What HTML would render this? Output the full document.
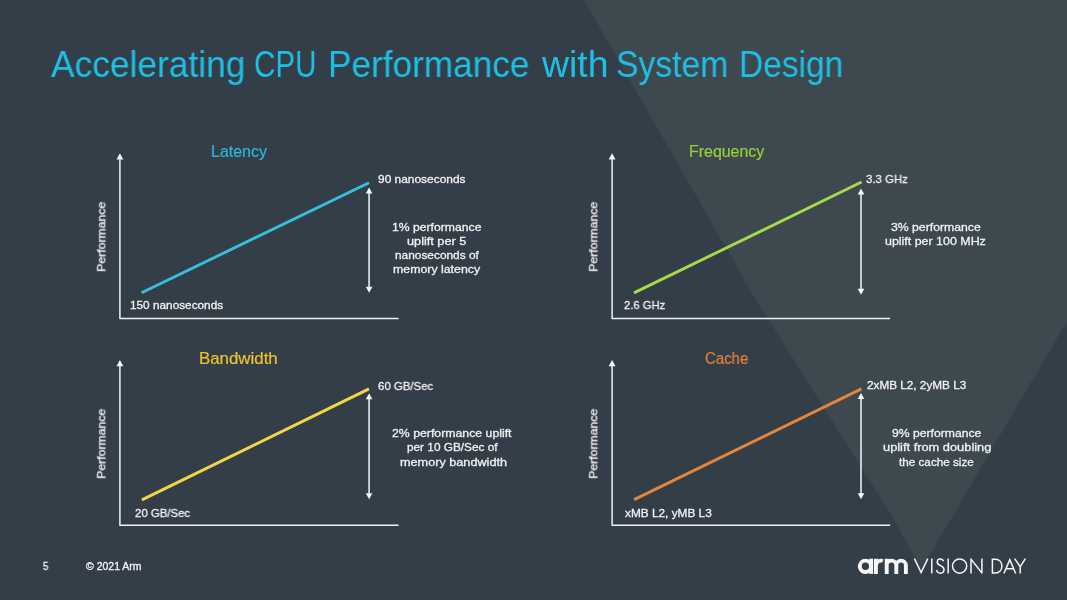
<!DOCTYPE html>
<html><head><meta charset="utf-8"><title>Accelerating CPU Performance with System Design</title>
<style>
html,body{margin:0;padding:0;background:#343e48;}
body{width:1067px;height:600px;position:relative;overflow:hidden;font-family:"Liberation Sans",sans-serif;}
.t{position:absolute;white-space:nowrap;line-height:1;transform-origin:0 0;will-change:transform;}
.b{-webkit-text-stroke:0.3px currentColor;}
.c{-webkit-text-stroke:0.2px currentColor;}
svg{position:absolute;left:0;top:0;}
</style></head><body>
<svg width="1067" height="600" viewBox="0 0 1067 600">
<rect width="1067" height="600" fill="#343e48"/>
<defs><filter id="sb" x="-10%" y="-10%" width="120%" height="120%"><feGaussianBlur stdDeviation="1"/></filter></defs>
<polygon points="526.7,-100 1167,-100 1167,151.2 921.1,569.7 894.5,520 756,300" fill="#3d4850" filter="url(#sb)"/>
<path d="M119.9 159.2 V318.5 H398.6" fill="none" stroke="#eef1f4" stroke-width="1.5" stroke-linejoin="round"/><path d="M119.9 153.2 l3.4 6.4 h-6.8z" fill="#f6f6f6"/><line x1="141.6" y1="292.8" x2="369.0" y2="182.7" stroke="#38bfdc" stroke-width="2.9"/><line x1="369.1" y1="192.5" x2="369.1" y2="287.7" stroke="#e9edf0" stroke-width="1.6"/><path d="M369.1 187.5 l3.3 6 h-6.6z" fill="#f6f6f6"/><path d="M369.1 292.7 l3.3 -6 h-6.6z" fill="#f6f6f6"/><path d="M612.1 159.2 V318.5 H890.1" fill="none" stroke="#eef1f4" stroke-width="1.5" stroke-linejoin="round"/><path d="M612.1 153.2 l3.4 6.4 h-6.8z" fill="#f6f6f6"/><line x1="634.0" y1="292.9" x2="861.6" y2="182.0" stroke="#a5db4a" stroke-width="2.9"/><line x1="861.0" y1="193.6" x2="861.0" y2="289.8" stroke="#e9edf0" stroke-width="1.6"/><path d="M861.0 188.6 l3.3 6 h-6.6z" fill="#f6f6f6"/><path d="M861.0 294.8 l3.3 -6 h-6.6z" fill="#f6f6f6"/><path d="M119.9 365.9 V525.2 H398.6" fill="none" stroke="#eef1f4" stroke-width="1.5" stroke-linejoin="round"/><path d="M119.9 359.9 l3.4 6.4 h-6.8z" fill="#f6f6f6"/><line x1="141.9" y1="499.9" x2="369.0" y2="388.9" stroke="#f3d545" stroke-width="2.9"/><line x1="369.1" y1="398.3" x2="369.1" y2="494.2" stroke="#e9edf0" stroke-width="1.6"/><path d="M369.1 393.3 l3.3 6 h-6.6z" fill="#f6f6f6"/><path d="M369.1 499.2 l3.3 -6 h-6.6z" fill="#f6f6f6"/><path d="M612.1 365.9 V525.2 H890.1" fill="none" stroke="#eef1f4" stroke-width="1.5" stroke-linejoin="round"/><path d="M612.1 359.9 l3.4 6.4 h-6.8z" fill="#f6f6f6"/><line x1="634.1" y1="499.6" x2="861.4" y2="388.9" stroke="#e5853c" stroke-width="2.9"/><line x1="861.0" y1="398.1" x2="861.0" y2="494.2" stroke="#e9edf0" stroke-width="1.6"/><path d="M861.0 393.1 l3.3 6 h-6.6z" fill="#f6f6f6"/><path d="M861.0 499.2 l3.3 -6 h-6.6z" fill="#f6f6f6"/>

<g fill="none" stroke="#f6f6f6" stroke-width="1.5" stroke-linecap="butt" stroke-linejoin="miter">
<path d="M914.4 558.6 L921.1 572.6 L927.8 558.6"/>
<path d="M931.8 558.6 V573.5"/>
<path d="M943.6 561.3 C943 559.6 941.8 558.9 940.3 558.9 C938.4 558.9 937.2 560.3 937.2 562 C937.2 566.3 944 565 944 569.6 C944 571.8 942.4 573.2 940.3 573.2 C938.2 573.2 936.9 571.8 936.6 570"/>
<path d="M948.2 558.6 V573.5"/>
<circle cx="959.6" cy="566.05" r="7.1"/>
<path d="M971 573.5 V558.6 M971 559.1 L981.9 573 M981.9 573.5 V558.6"/>
<path d="M992.4 559.3 V572.9 H995.2 C999.5 572.9 1001.9 570 1001.9 566.1 C1001.9 562.2 999.5 559.3 995.2 559.3 Z"/>
<path d="M1003.9 573.5 L1009.8 559.6 L1015.7 573.5 M1006 568.8 H1013.6"/>
<path d="M1014.6 558.6 L1020.2 566.6 L1025.4 558.6 M1020.2 566.4 V573.5"/>
</g>
<g fill="none" stroke="#f7f7f7" stroke-width="3.9">
<circle cx="865.4" cy="566.3" r="5.65"/>
<path d="M871.15 558.7 V573.9"/>
<path d="M875.9 573.9 V558.7 M875.9 567 C875.9 562.6 878.3 560.65 881 560.65 C881.7 560.65 882.3 560.8 882.8 561"/>
<path d="M886.7 573.9 V558.7 M886.7 565.45 a4.8 4.8 0 0 1 9.6 0 V573.9 M896.3 565.45 a4.8 4.8 0 0 1 9.6 0 V573.9"/>
</g>

</svg>
<span class="t" style="left:50.50px;top:47.00px;font-size:36px;color:#1dc0e4;transform:scaleX(0.9817)">Accelerating</span>
<span class="t" style="left:254.18px;top:47.00px;font-size:36px;color:#1dc0e4;transform:scaleX(0.8218)">CPU</span>
<span class="t" style="left:328.04px;top:47.00px;font-size:36px;color:#1dc0e4;transform:scaleX(0.9775)">Performance</span>
<span class="t" style="left:541.54px;top:47.00px;font-size:36px;color:#1dc0e4;transform:scaleX(1.0397)">with</span>
<span class="t" style="left:616.06px;top:47.00px;font-size:36px;color:#1dc0e4;transform:scaleX(0.9356)">System</span>
<span class="t" style="left:738.64px;top:47.00px;font-size:36px;color:#1dc0e4;transform:scaleX(0.9302)">Design</span>
<span class="t c" style="left:210.59px;top:144.00px;font-size:15.8px;color:#2cb9d8;transform:scaleX(1.0105)">Latency</span>
<span class="t b" style="left:377.50px;top:174.00px;font-size:11.5px;color:#f2f2f2;transform:scaleX(1.0372)">90 nanoseconds</span>
<span class="t b" style="left:392.40px;top:222.00px;font-size:11.5px;color:#f2f2f2;transform:scaleX(1.0598)">1% performance</span>
<span class="t b" style="left:407.40px;top:236.00px;font-size:11.5px;color:#f2f2f2;transform:scaleX(1.1050)">uplift per 5</span>
<span class="t b" style="left:394.60px;top:250.00px;font-size:11.5px;color:#f2f2f2;transform:scaleX(1.0328)">nanoseconds of</span>
<span class="t b" style="left:393.40px;top:264.00px;font-size:11.5px;color:#f2f2f2;transform:scaleX(1.0735)">memory latency</span>
<span class="t b" style="left:129.60px;top:300.00px;font-size:11.5px;color:#f2f2f2;transform:scaleX(1.0258)">150 nanoseconds</span>
<span class="t c" style="left:689.49px;top:144.00px;font-size:15.8px;color:#98d034;transform:scaleX(1.0077)">Frequency</span>
<span class="t b" style="left:866.00px;top:174.00px;font-size:11.5px;color:#f2f2f2;transform:scaleX(0.9875)">3.3 GHz</span>
<span class="t b" style="left:890.90px;top:222.00px;font-size:11.5px;color:#f2f2f2;transform:scaleX(1.0634)">3% performance</span>
<span class="t b" style="left:885.30px;top:236.00px;font-size:11.5px;color:#f2f2f2;transform:scaleX(1.0805)">uplift per 100 MHz</span>
<span class="t b" style="left:624.10px;top:300.00px;font-size:11.5px;color:#f2f2f2;transform:scaleX(0.9757)">2.6 GHz</span>
<span class="t c" style="left:199.43px;top:351.00px;font-size:15.8px;color:#ecc22e;transform:scaleX(1.0669)">Bandwidth</span>
<span class="t b" style="left:377.50px;top:381.00px;font-size:11.5px;color:#f2f2f2;transform:scaleX(0.9917)">60 GB/Sec</span>
<span class="t b" style="left:392.40px;top:428.00px;font-size:11.5px;color:#f2f2f2;transform:scaleX(1.0686)">2% performance uplift</span>
<span class="t b" style="left:407.00px;top:442.00px;font-size:11.5px;color:#f2f2f2;transform:scaleX(1.0256)">per 10 GB/Sec of</span>
<span class="t b" style="left:399.60px;top:457.00px;font-size:11.5px;color:#f2f2f2;transform:scaleX(1.1017)">memory bandwidth</span>
<span class="t b" style="left:134.80px;top:508.00px;font-size:11.5px;color:#f2f2f2;transform:scaleX(0.9899)">20 GB/Sec</span>
<span class="t c" style="left:705.30px;top:351.00px;font-size:15.8px;color:#e2823a;transform:scaleX(0.9460)">Cache</span>
<span class="t b" style="left:867.10px;top:380.00px;font-size:11.5px;color:#f2f2f2;transform:scaleX(1.0211)">2xMB L2, 2yMB L3</span>
<span class="t b" style="left:891.90px;top:428.00px;font-size:11.5px;color:#f2f2f2;transform:scaleX(1.0586)">9% performance</span>
<span class="t b" style="left:882.60px;top:442.00px;font-size:11.5px;color:#f2f2f2;transform:scaleX(1.1150)">uplift from doubling</span>
<span class="t b" style="left:899.20px;top:457.00px;font-size:11.5px;color:#f2f2f2;transform:scaleX(1.0175)">the cache size</span>
<span class="t b" style="left:624.80px;top:508.00px;font-size:11.5px;color:#f2f2f2;transform:scaleX(1.0278)">xMB L2, yMB L3</span>
<span class="t b" style="left:42.70px;top:562.00px;font-size:10.3px;color:#f2f2f2;transform:scaleX(0.9167)">5</span>
<span class="t b" style="left:86.40px;top:562.00px;font-size:10.3px;color:#f2f2f2;transform:scaleX(1.0200)">© 2021 Arm</span>
<span class="t b" style="left:105.70px;top:262.27px;font-size:11.5px;color:#f2f2f2;transform-origin:0 9.735px;transform:rotate(-90deg) scaleX(1.0636)">Performance</span>
<span class="t b" style="left:597.70px;top:262.27px;font-size:11.5px;color:#f2f2f2;transform-origin:0 9.735px;transform:rotate(-90deg) scaleX(1.0636)">Performance</span>
<span class="t b" style="left:105.70px;top:468.97px;font-size:11.5px;color:#f2f2f2;transform-origin:0 9.735px;transform:rotate(-90deg) scaleX(1.0636)">Performance</span>
<span class="t b" style="left:597.70px;top:468.97px;font-size:11.5px;color:#f2f2f2;transform-origin:0 9.735px;transform:rotate(-90deg) scaleX(1.0636)">Performance</span>
</body></html>
